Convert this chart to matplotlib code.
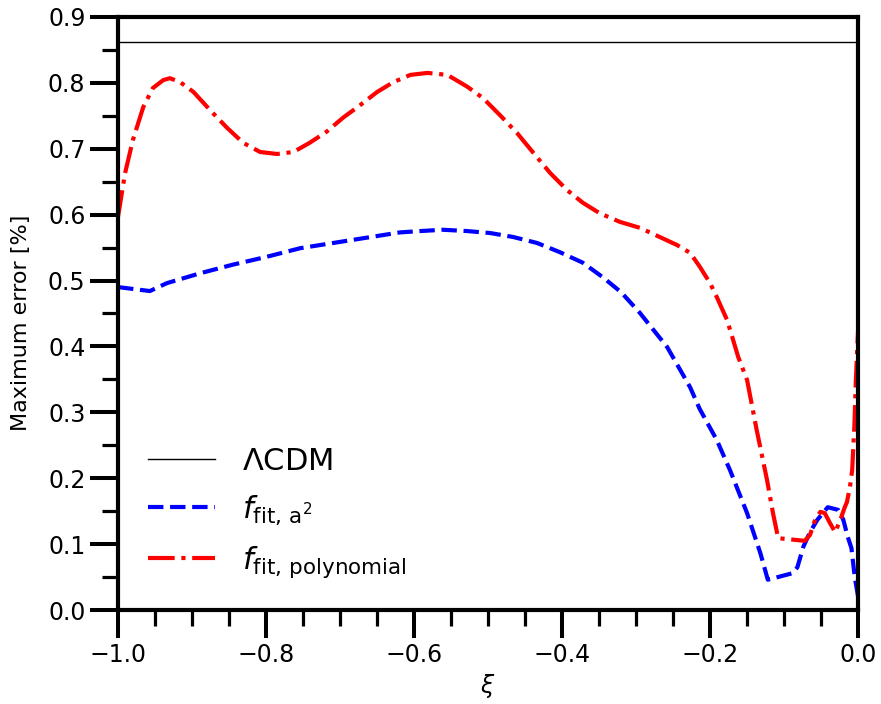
import matplotlib
matplotlib.use("Agg")
import matplotlib.pyplot as plt
from matplotlib.ticker import MultipleLocator, FuncFormatter

# ---- data ----
lcdm_level = 0.862

xi_a2 = [-1.0, -0.957, -0.934, -0.889, -0.845, -0.799, -0.754, -0.709, -0.664,
         -0.619, -0.592, -0.561, -0.528, -0.497, -0.466, -0.434, -0.403, -0.372,
         -0.345, -0.320, -0.295, -0.258, -0.227, -0.214, -0.191, -0.173, -0.15,
         -0.132, -0.122, -0.088, -0.082, -0.074, -0.065, -0.055, -0.041, -0.027,
         -0.020, -0.014, -0.009, -0.0045, 0.0]
err_a2 = [0.490, 0.484, 0.496, 0.511, 0.524, 0.536, 0.549, 0.557, 0.565,
          0.573, 0.575, 0.577, 0.575, 0.572, 0.566, 0.557, 0.543, 0.527,
          0.505, 0.482, 0.451, 0.399, 0.338, 0.305, 0.258, 0.212, 0.147,
          0.086, 0.046, 0.056, 0.065, 0.096, 0.118, 0.137, 0.156, 0.152,
          0.137, 0.111, 0.094, 0.050, 0.020]

xi_poly = [-1.0, -0.9905, -0.980, -0.966, -0.953, -0.939, -0.930, -0.916, -0.898,
           -0.876, -0.853, -0.831, -0.808, -0.785, -0.763, -0.741, -0.718, -0.696,
           -0.673, -0.650, -0.628, -0.605, -0.582, -0.555, -0.528, -0.507, -0.484,
           -0.461, -0.439, -0.416, -0.393, -0.372, -0.349, -0.322, -0.295, -0.268,
           -0.245, -0.227, -0.214, -0.2, -0.191, -0.177, -0.170, -0.162, -0.15,
           -0.137, -0.123, -0.115, -0.108, -0.072, -0.065, -0.058, -0.051, -0.045,
           -0.039, -0.031, -0.024, -0.018, -0.015, -0.011, -0.008, -0.005, -0.003,
           -0.001, 0.0]
err_poly = [0.597, 0.663, 0.713, 0.763, 0.792, 0.804, 0.807, 0.801, 0.786,
            0.759, 0.732, 0.709, 0.695, 0.692, 0.695, 0.709, 0.726, 0.747,
            0.766, 0.786, 0.801, 0.812, 0.815, 0.812, 0.794, 0.777, 0.751,
            0.724, 0.694, 0.663, 0.637, 0.618, 0.602, 0.589, 0.580, 0.566,
            0.554, 0.542, 0.521, 0.496, 0.475, 0.440, 0.414, 0.384, 0.349,
            0.273, 0.197, 0.147, 0.109, 0.105, 0.114, 0.137, 0.149, 0.147,
            0.134, 0.118, 0.137, 0.156, 0.164, 0.187, 0.212, 0.280, 0.349,
            0.400, 0.425]

labels = [r'$\Lambda$CDM', r'$f_{\mathrm{fit,\,a^2}}$', r'$f_{\mathrm{fit,\,polynomial}}$']

fig = plt.figure(figsize=(8.81, 7.04), dpi=100)
ax = fig.add_axes([0.134, 0.1335, 0.840, 0.8425])

ax.axhline(lcdm_level, color='black', lw=1.0, label=labels[0])
ax.plot(xi_a2, err_a2, color='blue', ls='--', lw=3.0, label=labels[1])
ax.plot(xi_poly, err_poly, color='red', ls='-.', lw=3.0, label=labels[2])

ax.set_xlim(-1.0, 0.0)
ax.set_ylim(0.0, 0.9)
ax.xaxis.set_major_locator(MultipleLocator(0.2))
ax.xaxis.set_minor_locator(MultipleLocator(0.05))
ax.yaxis.set_major_locator(MultipleLocator(0.1))
ax.yaxis.set_minor_locator(MultipleLocator(0.05))
fmt = FuncFormatter(lambda v, p: ('%.1f' % (0.0 if abs(v) < 1e-9 else v)).replace('-', '\u2212'))
ax.xaxis.set_major_formatter(fmt)
ax.yaxis.set_major_formatter(fmt)

ax.tick_params(which='major', direction='out', length=20, width=2.9, labelsize=17)
ax.tick_params(which='minor', direction='out', length=11.5, width=2.3)
for s in ax.spines.values():
    s.set_linewidth(3.0)

ax.set_xlabel(r'$\xi$', fontsize=17)
ax.set_ylabel('Maximum error [%]', fontsize=16, labelpad=6)
ax.yaxis.set_label_coords(-0.118, 0.485)

ax.legend(loc='lower left', bbox_to_anchor=(0.003, 0.005), frameon=False,
          fontsize=22, handlelength=2.2, labelspacing=0.56, handletextpad=0.9)

fig.savefig('out.png', dpi=100)
